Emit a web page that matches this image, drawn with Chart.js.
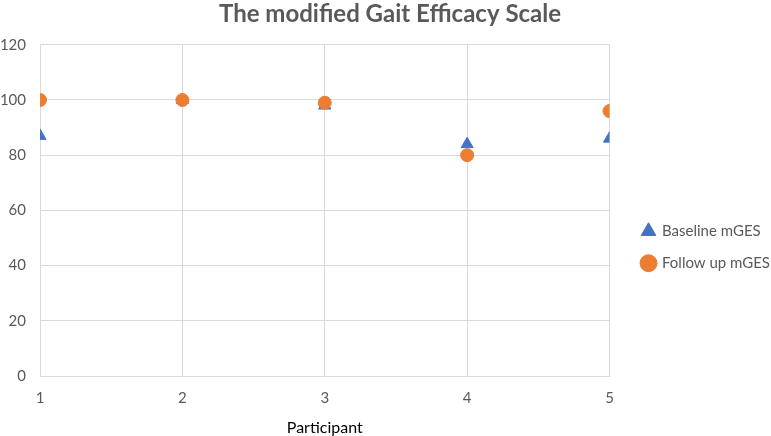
<!DOCTYPE html>
<html>
<head>
<meta charset="utf-8">
<script src="https://cdn.jsdelivr.net/npm/chart.js@4"></script>
<style>
  html, body { margin: 0; padding: 0; background: #fff; }
  #wrap { width: 771px; height: 436px; }
</style>
</head>
<body>
<div id="wrap"><canvas id="chart"></canvas></div>
<script>
const participants = [1, 2, 3, 4, 5];
const baselineScores = [87, 100, 98, 84, 86];
const followUpScores = [100, 100, 99, 80, 96];
const yTicks = [0, 20, 40, 60, 80, 100, 120];

const grey = '#595959';
const gridGrey = '#d9d9d9';

window.onload = () => {
    const ctx = document.getElementById('chart').getContext('2d');
    new Chart(ctx, {
        type: 'scatter',
        data: {
            datasets: [
                {
                    label: 'Baseline mGES',
                    data: participants.map((p, i) => ({ x: p, y: baselineScores[i] })),
                    pointStyle: 'triangle',
                    pointRadius: 7,
                    backgroundColor: '#4472c4',
                    borderColor: '#4472c4',
                    order: 2
                },
                {
                    label: 'Follow up mGES',
                    data: participants.map((p, i) => ({ x: p, y: followUpScores[i] })),
                    pointStyle: 'circle',
                    pointRadius: 6.5,
                    backgroundColor: '#ed7d31',
                    borderColor: '#ed7d31',
                    order: 1
                }
            ]
        },
        options: {
            responsive: true,
            maintainAspectRatio: false,
            animation: false,
            layout: { padding: { left: 0, right: -9, top: 0, bottom: 0 } },
            plugins: {
                title: {
                    display: true,
                    text: 'The modified Gait Efficacy Scale',
                    color: grey,
                    font: { family: 'Lato', size: 24, weight: 'bold' },
                    padding: { top: 0, bottom: 16 }
                },
                legend: {
                    position: 'right',
                    maxWidth: 200,
                    // blank title only pushes the items down a little
                    title: {
                        display: true,
                        text: ' ',
                        font: { size: 12 },
                        padding: { top: 44, bottom: 0 }
                    },
                    labels: {
                        usePointStyle: true,
                        boxWidth: 12,
                        boxHeight: 12,
                        color: grey,
                        font: { family: 'Lato', size: 15 },
                        padding: 17,
                        sort: (a, b) => a.datasetIndex - b.datasetIndex
                    }
                },
                tooltip: { enabled: false }
            },
            scales: {
                x: {
                    type: 'linear',
                    min: participants[0],
                    max: participants[participants.length - 1],
                    ticks: {
                        stepSize: 1,
                        color: grey,
                        font: { family: 'Lato', size: 15 },
                        padding: 13
                    },
                    grid: { color: gridGrey, drawTicks: false },
                    border: { color: gridGrey },
                    title: {
                        display: true,
                        text: 'Participant',
                        color: '#000',
                        font: { family: 'Lato', size: 16, lineHeight: 1 },
                        padding: { top: 0, bottom: 0 }
                    }
                },
                y: {
                    min: yTicks[0],
                    max: yTicks[yTicks.length - 1],
                    afterBuildTicks: axis => { axis.ticks = yTicks.map(v => ({ value: v })); },
                    afterFit: axis => { axis.width = 40; },
                    ticks: {
                        color: grey,
                        font: { family: 'Lato', size: 15 },
                        padding: 14
                    },
                    grid: { color: gridGrey, drawTicks: false },
                    border: { color: gridGrey }
                },
                // empty spacer between plot and legend
                gap: {
                    type: 'linear',
                    position: 'right',
                    afterFit: axis => { axis.width = 16; },
                    ticks: { display: false },
                    grid: { display: false },
                    border: { display: false }
                }
            }
        }
    });
};
</script>
</body>
</html>
